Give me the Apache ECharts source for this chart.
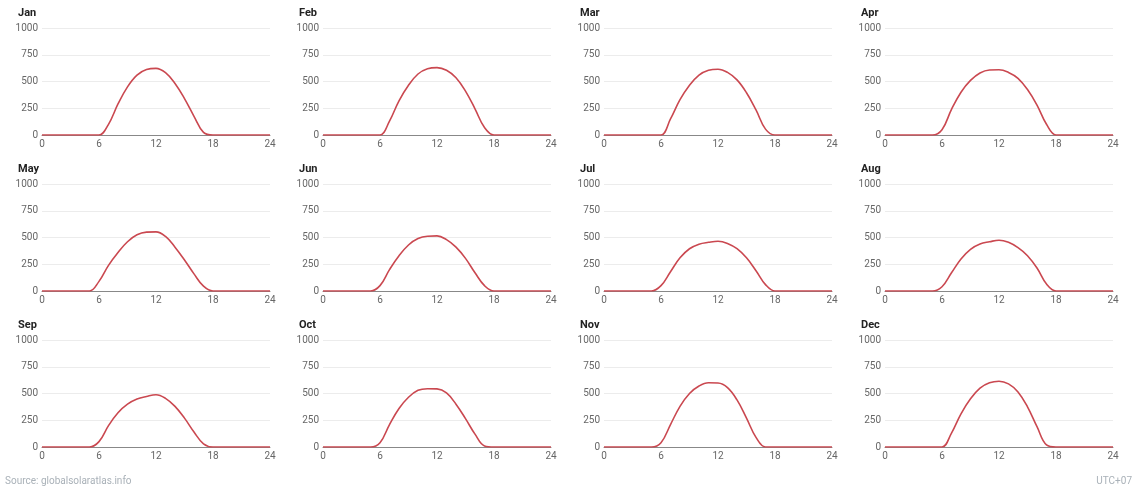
<!DOCTYPE html>
<html>
<head>
<meta charset="utf-8">
<script src="https://cdn.jsdelivr.net/npm/echarts@6/dist/echarts.min.js"></script>
<style>
  html, body { margin: 0; padding: 0; background: #ffffff; }
</style>
</head>
<body>
<div id="main" style="width: 1137px; height: 488px;"></div>
<script>
// hour of day 0..24
var hours = [0, 1, 2, 3, 4, 5, 6, 7, 8, 9, 10, 11, 12, 13, 14, 15, 16, 17, 18, 19, 20, 21, 22, 23, 24];
var xTicks = [0, 6, 12, 18, 24];
var yTicks = [0, 250, 500, 750, 1000];
var months = ['Jan', 'Feb', 'Mar', 'Apr', 'May', 'Jun', 'Jul', 'Aug', 'Sep', 'Oct', 'Nov', 'Dec'];

// average hourly profile per month
var jan = [0, 0, 0, 0, 0, 0, 0, 100, 290, 450, 560, 612, 623, 582, 482, 340, 175, 25, 0, 0, 0, 0, 0, 0, 0];
var feb = [0, 0, 0, 0, 0, 0, 0, 130, 320, 465, 570, 620, 630, 605, 535, 410, 245, 70, 0, 0, 0, 0, 0, 0, 0];
var mar = [0, 0, 0, 0, 0, 0, 0, 150, 330, 465, 560, 605, 615, 585, 515, 395, 235, 55, 0, 0, 0, 0, 0, 0, 0];
var apr = [0, 0, 0, 0, 0, 0, 50, 240, 400, 510, 580, 608, 610, 585, 530, 425, 280, 100, 0, 0, 0, 0, 0, 0, 0];
var may = [0, 0, 0, 0, 0, 0, 90, 240, 360, 460, 525, 550, 553, 510, 410, 290, 160, 45, 0, 0, 0, 0, 0, 0, 0];
var jun = [0, 0, 0, 0, 0, 0, 50, 200, 330, 430, 490, 512, 515, 480, 410, 305, 170, 50, 0, 0, 0, 0, 0, 0, 0];
var jul = [0, 0, 0, 0, 0, 0, 50, 180, 310, 395, 438, 455, 465, 445, 395, 310, 190, 60, 0, 0, 0, 0, 0, 0, 0];
var aug = [0, 0, 0, 0, 0, 0, 40, 170, 300, 390, 440, 460, 475, 455, 405, 330, 215, 65, 0, 0, 0, 0, 0, 0, 0];
var sep = [0, 0, 0, 0, 0, 0, 50, 200, 320, 400, 448, 472, 488, 455, 380, 270, 140, 30, 0, 0, 0, 0, 0, 0, 0];
var oct = [0, 0, 0, 0, 0, 0, 40, 210, 360, 465, 530, 545, 543, 505, 400, 265, 120, 10, 0, 0, 0, 0, 0, 0, 0];
var nov = [0, 0, 0, 0, 0, 0, 40, 210, 380, 500, 570, 600, 598, 555, 440, 270, 90, 0, 0, 0, 0, 0, 0, 0, 0];
var dec = [0, 0, 0, 0, 0, 0, 0, 130, 310, 450, 550, 600, 615, 590, 515, 375, 190, 20, 0, 0, 0, 0, 0, 0, 0];

var monthData = [jan, feb, mar, apr, may, jun, jul, aug, sep, oct, nov, dec];

var myChart = echarts.init(document.getElementById('main'));

var font = 'Roboto, "Liberation Sans", Arial, sans-serif';
var grids = [], xAxes = [], yAxes = [], series = [], titles = [];

for (var i = 0; i < 12; i++) {
    var col = i % 4, row = Math.floor(i / 4);
    var gx = 42 + col * 281;
    var gy = 28 + row * 156;

    grids.push({ left: gx, top: gy, width: 228, height: 107 });

    titles.push({
        text: months[i],
        left: gx - 24,
        top: gy - 20,
        padding: 0,
        textStyle: { fontFamily: font, fontSize: 11, fontWeight: 'bold', color: '#222' }
    });

    xAxes.push({
        gridIndex: i,
        type: 'value',
        min: xTicks[0],
        max: xTicks[xTicks.length - 1],
        interval: 6,
        axisLine: { show: true, lineStyle: { color: '#888', width: 1 } },
        axisTick: { show: false },
        splitLine: { show: false },
        axisLabel: { margin: 4, fontFamily: font, fontSize: 10, color: '#666' }
    });

    yAxes.push({
        gridIndex: i,
        type: 'value',
        min: yTicks[0],
        max: yTicks[yTicks.length - 1],
        interval: 250,
        axisLine: { show: false },
        axisTick: { show: false },
        splitLine: { lineStyle: { color: '#ececec', width: 1 } },
        axisLabel: {
            margin: 4, fontFamily: font, fontSize: 10, color: '#666',
            formatter: function (v) { return String(v); }
        }
    });

    series.push({
        type: 'line',
        xAxisIndex: i,
        yAxisIndex: i,
        data: hours.map(function (h, k) { return [h, monthData[i][k]]; }),
        smooth: 0.4,
        showSymbol: false,
        lineStyle: { color: '#ca4850', width: 1.6 },
        z: 3
    });
}

titles.push({
    text: 'Source: globalsolaratlas.info',
    left: 5,
    top: 476,
    padding: 0,
    textStyle: { fontFamily: font, fontSize: 10, fontWeight: 'normal', color: '#a9b1b8' }
});
titles.push({
    text: 'UTC+07',
    right: 5,
    top: 476,
    padding: 0,
    textStyle: { fontFamily: font, fontSize: 10, fontWeight: 'normal', color: '#a9b1b8' }
});

myChart.setOption({
    backgroundColor: '#ffffff',
    animation: false,
    title: titles,
    grid: grids,
    xAxis: xAxes,
    yAxis: yAxes,
    series: series
});
</script>
</body>
</html>
